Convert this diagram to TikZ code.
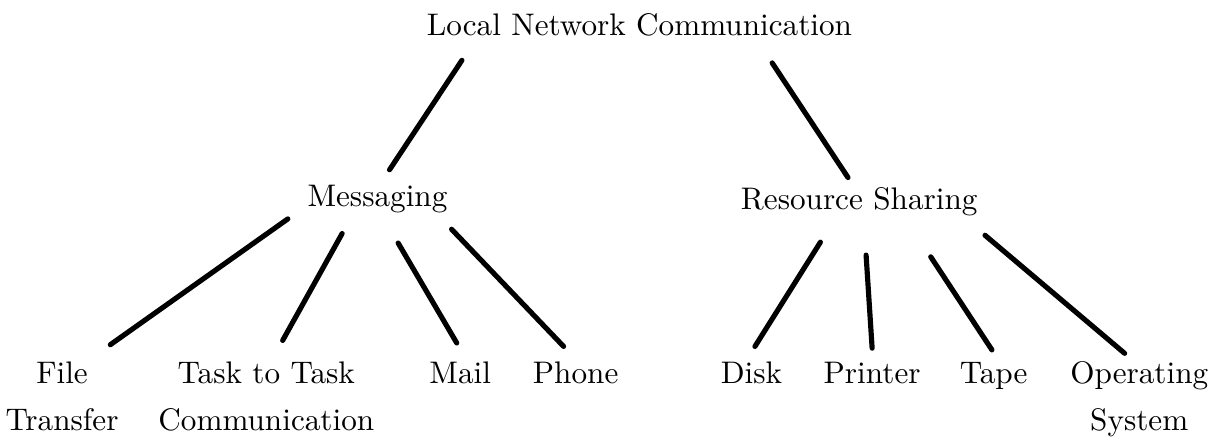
\documentclass[tikz,border=0pt]{standalone}
\usepackage{tikz}

\tikzset{
  label/.style={inner sep=0pt, outer sep=0pt, anchor=base, align=center,
    font=\fontsize{10.3pt}{12.4pt}\selectfont},
  branch/.style={line width=1.7pt, line cap=round}
}

\begin{document}
\begin{tikzpicture}
            \useasboundingbox (0,0) rectangle (14.18,5.13);

            % Top levels
            \node[label] (lnc) at (7.42,4.72) {Local Network Communication};
            \node[label] (msg) at (4.38,2.73) {Messaging};
            \node[label] (res) at (9.97,2.70) {Resource Sharing};

            % Leaves (two-line ones sit on their lower baseline)
            \node[label] (file) at (0.72,0.13) {File\\[3.4pt]Transfer};
            \node[label] (task) at (3.09,0.13) {Task to Task\\[3.4pt]Communication};
            \node[label] (mail) at (5.34,0.68) {Mail};
            \node[label] (phone) at (6.68,0.68) {Phone};
            \node[label] (disk) at (8.72,0.68) {Disk};
            \node[label] (printer) at (10.12,0.68) {Printer};
            \node[label] (tape) at (11.53,0.68) {Tape};
            \node[label] (opsys) at (13.22,0.13) {Operating\\[3.4pt]System};

            % Branches
            \draw[branch] ([shift={(-2.06,-0.29)}]lnc.base) -- ([shift={(0.14,0.43)}]msg.base);
            \draw[branch] ([shift={(1.54,-0.32)}]lnc.base) -- ([shift={(-0.13,0.37)}]res.base);

            \draw[branch] ([shift={(-1.04,-0.14)}]msg.base) -- ([shift={(0.56,1.00)}]file.base);
            \draw[branch] ([shift={(-0.41,-0.31)}]msg.base) -- ([shift={(0.19,1.05)}]task.base);
            \draw[branch] ([shift={(0.24,-0.42)}]msg.base) -- ([shift={(-0.04,0.47)}]mail.base);
            \draw[branch] ([shift={(0.86,-0.26)}]msg.base) -- ([shift={(-0.14,0.43)}]phone.base);

            \draw[branch] ([shift={(-0.45,-0.38)}]res.base) -- ([shift={(0.04,0.43)}]disk.base);
            \draw[branch] ([shift={(0.08,-0.53)}]res.base) -- ([shift={(0,0.41)}]printer.base);
            \draw[branch] ([shift={(0.83,-0.55)}]res.base) -- ([shift={(-0.02,0.39)}]tape.base);
            \draw[branch] ([shift={(1.46,-0.30)}]res.base) -- ([shift={(-0.17,0.90)}]opsys.base);
        \end{tikzpicture}
\end{document}
